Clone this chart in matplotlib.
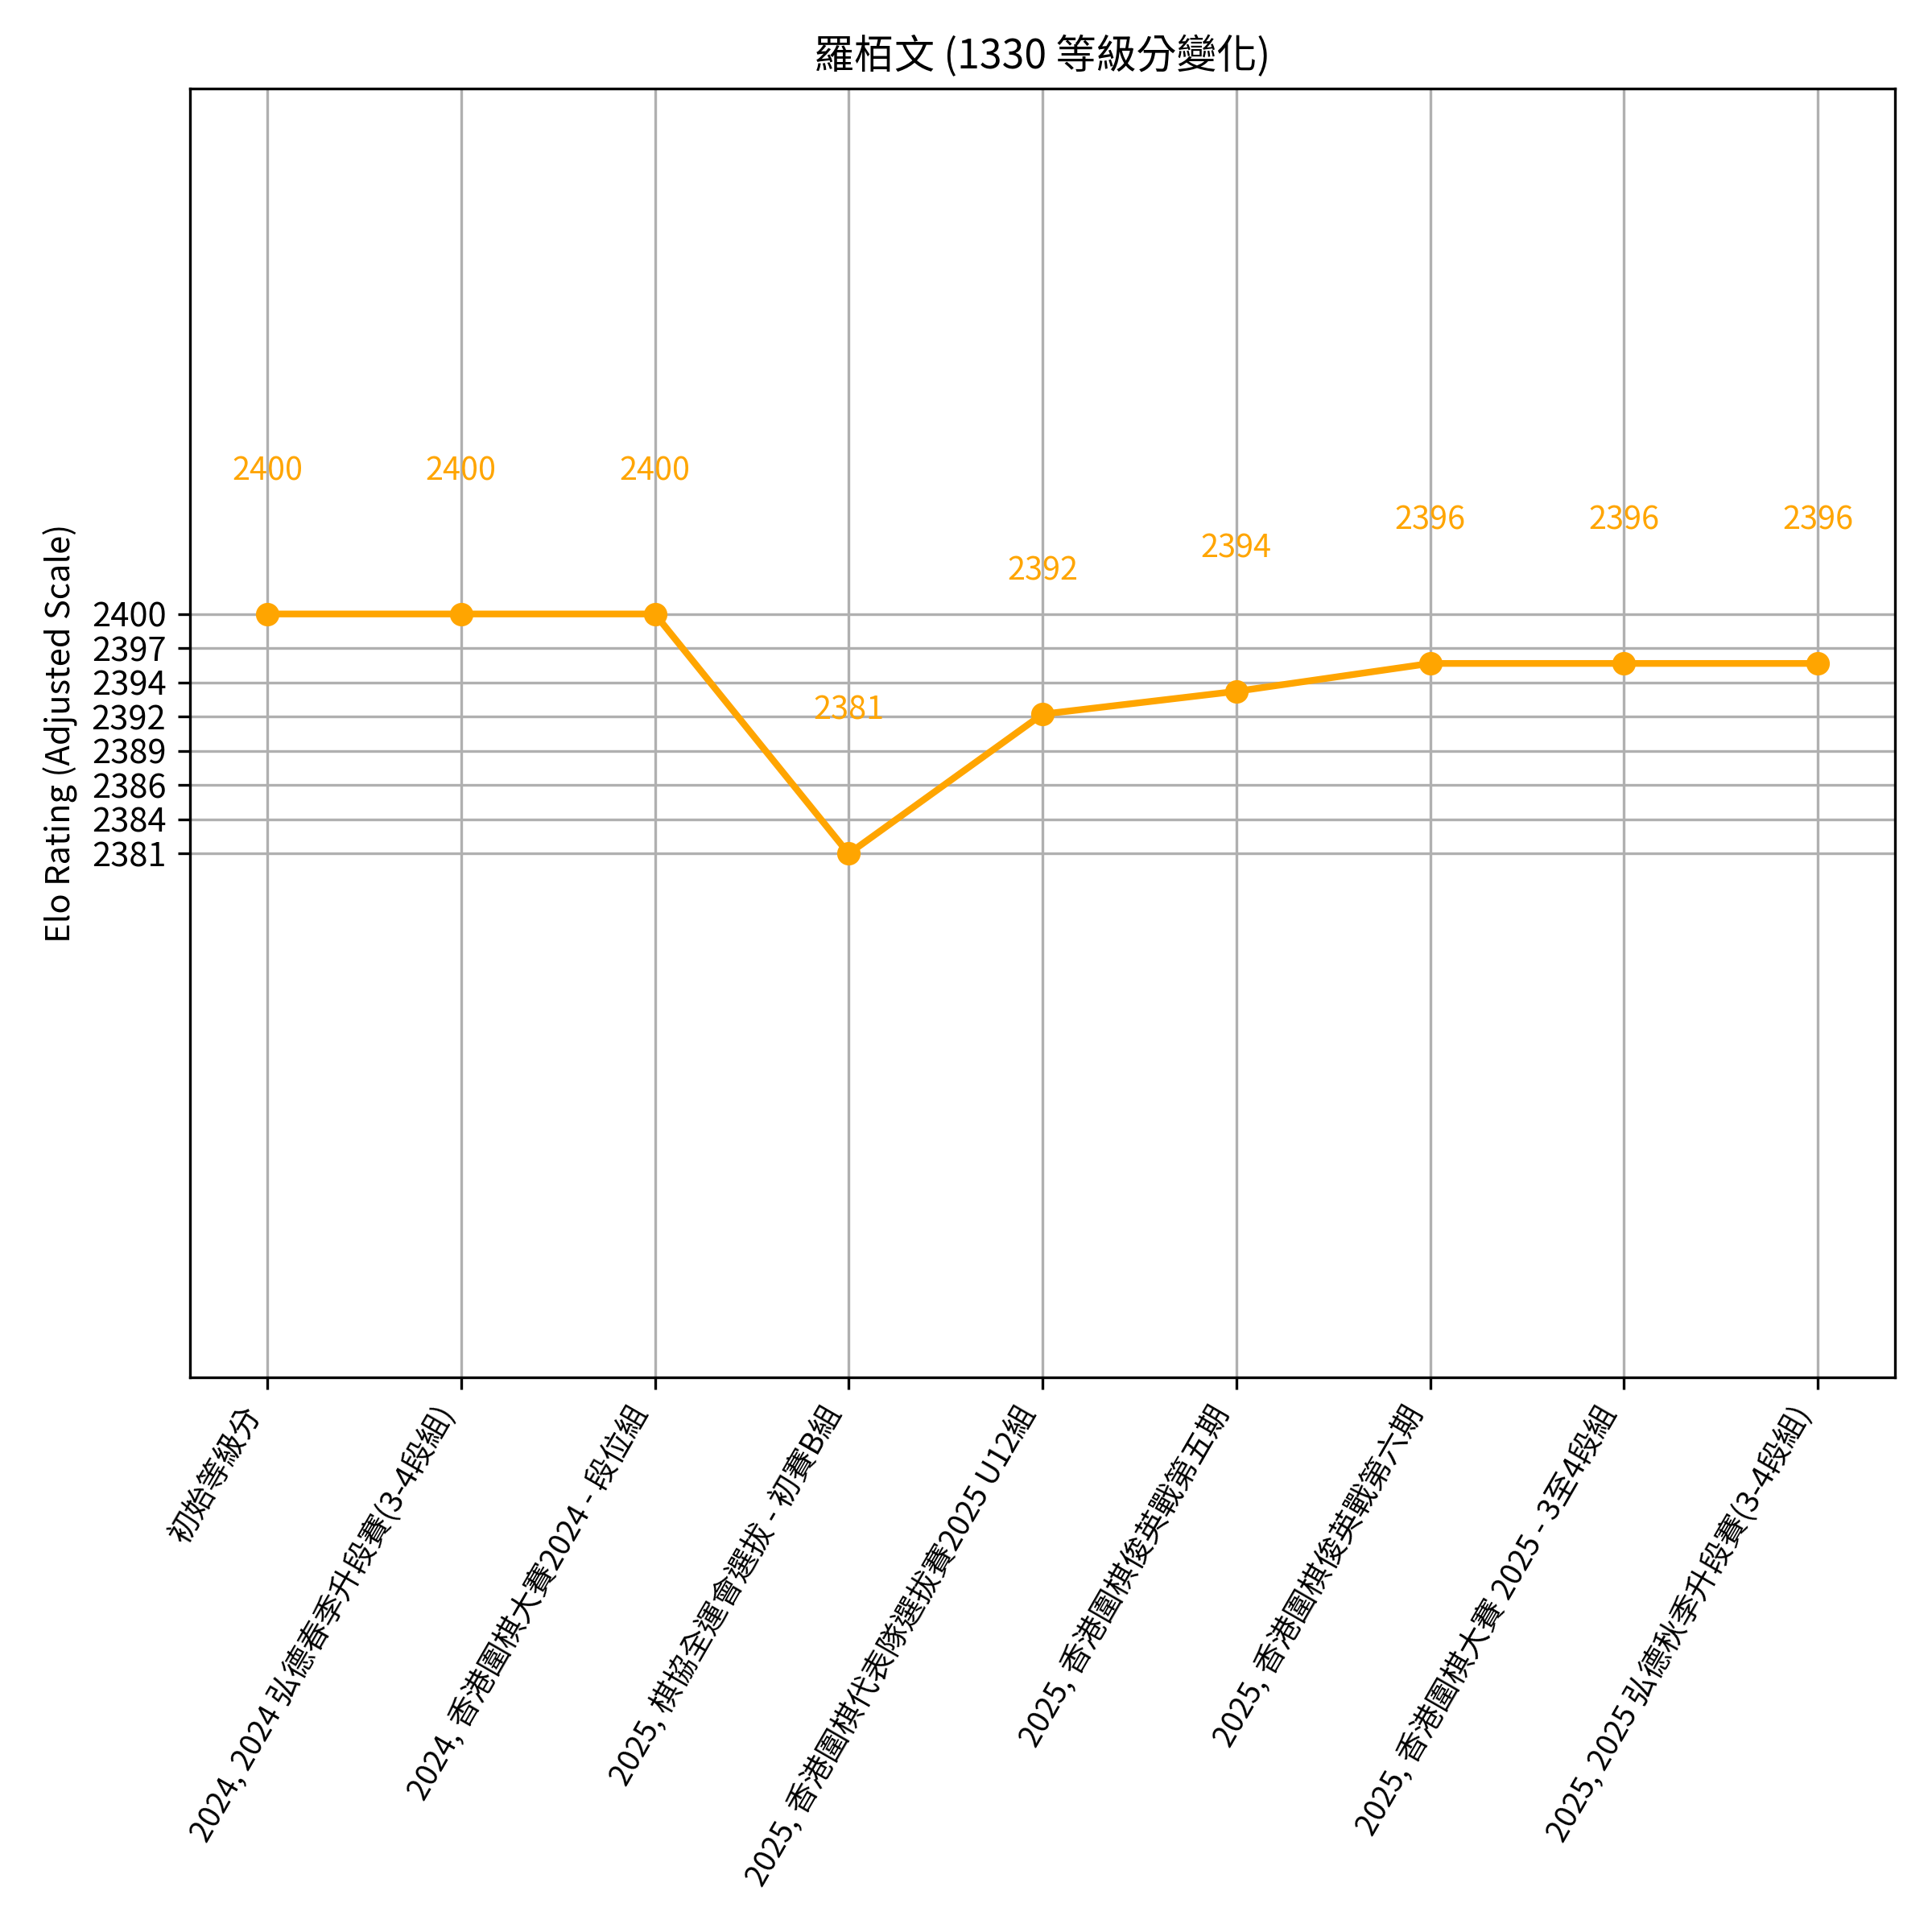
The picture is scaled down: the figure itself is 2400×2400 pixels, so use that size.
import matplotlib
matplotlib.use("Agg")
import matplotlib.pyplot as plt
import numpy as np

plt.rcParams['font.family'] = ['Noto Sans CJK TC', 'DejaVu Sans']

title = "羅栢文 (1330 等級分變化)"
ylabel = "Elo Rating (Adjusted Scale)"
events = [
    "初始等級分",
    "2024, 2024 弘德春季升段賽(3-4段組)",
    "2024, 香港圍棋大賽2024 - 段位組",
    "2025, 棋協全運會選拔 - 初賽B組",
    "2025, 香港圍棋代表隊選拔賽2025 U12組",
    "2025, 香港圍棋俊英戰第五期",
    "2025, 香港圍棋俊英戰第六期",
    "2025, 香港圍棋大賽 2025 - 3至4段組",
    "2025, 2025 弘德秋季升段賽(3-4段組)",
]
ratings = [2399.8, 2399.8, 2399.8, 2380.9, 2391.9, 2393.7, 2395.9, 2395.9, 2395.9]

fig, ax = plt.subplots(figsize=(8, 8), dpi=300)
x = np.arange(len(events))
ax.plot(x, ratings, marker='o', color='orange', linewidth=2, markersize=6)
for xi, v in zip(x, ratings):
    ax.annotate(f"{v:.0f}", (xi, v), xytext=(0, 40), textcoords='offset points',
                ha='center', color='orange', fontsize=9.5)

lo, hi = min(ratings), max(ratings)
ticks = np.linspace(lo, hi, 8)
ax.set_yticks(ticks)
ax.set_yticklabels([f"{t:.0f}" for t in ticks])
ax.set_ylim(lo - 41.3, hi + 41.4)
ax.set_xticks(x)
ax.set_xticklabels(events, rotation=60, ha='right', fontsize=9.1)
ax.set_xlim(-0.4, len(events) - 1 + 0.4)
ax.grid(True)
ax.set_title(title, fontsize=12)
ax.set_ylabel(ylabel)
fig.subplots_adjust(left=0.0982, right=0.981, top=0.954, bottom=0.287)
fig.savefig("out.png", dpi=300)
